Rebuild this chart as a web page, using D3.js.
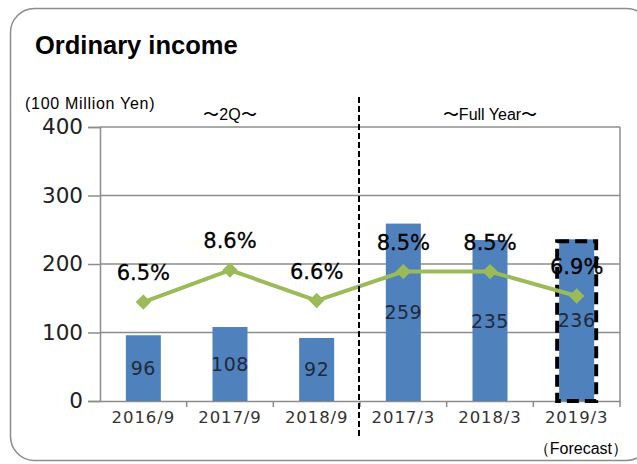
<!DOCTYPE html>
<html>
<head>
<meta charset="utf-8">
<script src="https://cdn.jsdelivr.net/npm/d3@7"></script>
<style>
  body { margin: 0; background: #fff; }
  text { font-family: "Liberation Sans", Arial, sans-serif; }
</style>
</head>
<body>
<script>
// chart data
var categories = ['2016/9', '2017/9', '2018/9', '2017/3', '2018/3', '2019/3'];
var income = [96, 108, 92, 259, 235, 236];
var margin = [6.5, 8.6, 6.6, 8.5, 8.5, 6.9];
var yTicks = [0, 100, 200, 300, 400];

var width = 637,
	height = 464;

var wideFont = '"DejaVu Sans", Verdana, sans-serif';

var svg = d3.select('body').append('svg')
	.attr('width', width)
	.attr('height', height);

// plot area
var plot = {left: 100, right: 620, top: 127, bottom: 401};

var xScale = d3.scaleBand().domain(categories).range([plot.left, plot.right]),
	yScale = d3.scaleLinear().domain([0, 400]).range([plot.bottom, plot.top]),
	// hidden secondary scale for the margin line
	y2Scale = d3.scaleLinear().domain([0, 18]).range([plot.bottom, plot.top]);

var barWidth = 35;

// card border
svg.append('rect')
	.attr('x', 10.5).attr('y', 8.5)
	.attr('width', 640).attr('height', 452)
	.attr('rx', 24)
	.attr('fill', 'none')
	.attr('stroke', '#8c8c8c')
	.attr('stroke-width', 1.5);

svg.append('text')
	.attr('x', 35).attr('y', 54)
	.style('font-size', '25.5px')
	.style('font-weight', 'bold')
	.text('Ordinary income');

svg.append('text')
	.attr('x', 25).attr('y', 109)
	.style('font-size', '16px')
	.style('letter-spacing', '0.7px')
	.text('(100 Million Yen)');

// gridlines
svg.append('g').selectAll('line')
	.data(yTicks.slice(1))
	.enter().append('line')
	.attr('x1', plot.left).attr('x2', plot.right)
	.attr('y1', function(d) { return yScale(d); })
	.attr('y2', function(d) { return yScale(d); })
	.attr('stroke', '#8c8c8c')
	.attr('stroke-width', 1.5);

svg.append('line')
	.attr('x1', plot.right).attr('x2', plot.right)
	.attr('y1', plot.top).attr('y2', plot.bottom)
	.attr('stroke', '#8c8c8c')
	.attr('stroke-width', 1.5);

// y axis
var yAxis = svg.append('g')
	.attr('transform', 'translate(' + plot.left + ',0)')
	.call(d3.axisLeft(yScale).tickValues(yTicks).tickSize(12).tickPadding(5));
yAxis.selectAll('path, line').attr('stroke', '#8c8c8c').attr('stroke-width', 1.5);
yAxis.selectAll('text')
	.style('font-family', wideFont)
	.style('font-size', '21.5px')
	.attr('fill', '#222');

// x axis
var xAxis = svg.append('g')
	.attr('transform', 'translate(0,' + plot.bottom + ')')
	.call(d3.axisBottom(xScale).tickSize(0).tickPadding(10));
xAxis.select('.domain').attr('stroke', '#8c8c8c').attr('stroke-width', 1.5);
xAxis.selectAll('text')
	.style('font-family', wideFont)
	.style('font-size', '16.5px')
	.style('letter-spacing', '0.9px')
	.attr('fill', '#333');

// tick marks between categories
xAxis.selectAll('.sep')
	.data(categories)
	.enter().append('line')
	.attr('x1', function(d) { return xScale(d) + xScale.bandwidth(); })
	.attr('x2', function(d) { return xScale(d) + xScale.bandwidth(); })
	.attr('y1', 0).attr('y2', 6)
	.attr('stroke', '#8c8c8c')
	.attr('stroke-width', 1.5);

// bars
svg.selectAll('.bar')
	.data(categories)
	.enter().append('rect')
	.attr('class', 'bar')
	.attr('x', function(d) { return xScale(d) + xScale.bandwidth() / 2 - barWidth / 2; })
	.attr('y', function(d, i) { return yScale(income[i]); })
	.attr('width', barWidth)
	.attr('height', function(d, i) { return plot.bottom - yScale(income[i]); })
	.attr('fill', '#4f81bd');

// bar value labels
svg.selectAll('.bar-label')
	.data(categories)
	.enter().append('text')
	.attr('class', 'bar-label')
	.attr('x', function(d) { return xScale(d) + xScale.bandwidth() / 2; })
	.attr('y', function(d, i) { return (yScale(income[i]) + plot.bottom) / 2 + 7; })
	.attr('text-anchor', 'middle')
	.style('font-family', wideFont)
	.style('font-size', '19px')
	.style('letter-spacing', '0.5px')
	.attr('fill', '#1f2a3a')
	.text(function(d, i) { return income[i]; });

// dashed forecast box
var last = categories[categories.length - 1];
svg.append('rect')
	.attr('x', xScale(last) + xScale.bandwidth() / 2 - barWidth / 2 - 2)
	.attr('y', yScale(income[income.length - 1]) + 2)
	.attr('width', barWidth + 4)
	.attr('height', plot.bottom - yScale(income[income.length - 1]) - 2)
	.attr('fill', 'none')
	.attr('stroke', '#000')
	.attr('stroke-width', 4)
	.attr('stroke-dasharray', '12,6');

// margin line
var line = d3.line()
	.x(function(d, i) { return xScale(categories[i]) + xScale.bandwidth() / 2; })
	.y(function(d) { return y2Scale(d); });

svg.append('path')
	.datum(margin)
	.attr('d', line)
	.attr('fill', 'none')
	.attr('stroke', '#9bbb59')
	.attr('stroke-width', 4);

svg.selectAll('.marker')
	.data(margin)
	.enter().append('path')
	.attr('class', 'marker')
	.attr('d', d3.symbol().type(d3.symbolDiamond2).size(150))
	.attr('transform', function(d, i) {
		return 'translate(' + (xScale(categories[i]) + xScale.bandwidth() / 2) + ',' + y2Scale(d) + ')';
	})
	.attr('fill', '#9bbb59');

svg.selectAll('.pct-label')
	.data(margin)
	.enter().append('text')
	.attr('class', 'pct-label')
	.attr('x', function(d, i) { return xScale(categories[i]) + xScale.bandwidth() / 2; })
	.attr('y', function(d) { return y2Scale(d) - 22; })
	.attr('text-anchor', 'middle')
	.style('font-family', wideFont)
	.style('font-size', '21px')
	.style('stroke', '#000')
	.style('stroke-width', 0.3)
	.attr('fill', '#000')
	.text(function(d) { return d.toFixed(1) + '%'; });

// period divider
svg.append('line')
	.attr('x1', 359).attr('x2', 359)
	.attr('y1', 97).attr('y2', 437)
	.attr('stroke', '#000')
	.attr('stroke-width', 2)
	.attr('stroke-dasharray', '6,3');

svg.append('text')
	.attr('x', (xScale('2016/9') + xScale('2018/9') + xScale.bandwidth()) / 2)
	.attr('y', 120)
	.attr('text-anchor', 'middle')
	.style('font-size', '16px')
	.text('〜2Q〜');

svg.append('text')
	.attr('x', (xScale('2017/3') + xScale('2019/3') + xScale.bandwidth()) / 2)
	.attr('y', 120)
	.attr('text-anchor', 'middle')
	.style('font-size', '16px')
	.text('〜Full Year〜');

svg.append('text')
	.attr('x', 628).attr('y', 454)
	.attr('text-anchor', 'end')
	.style('font-size', '16px')
	.text('（Forecast）');
</script>
</body>
</html>
